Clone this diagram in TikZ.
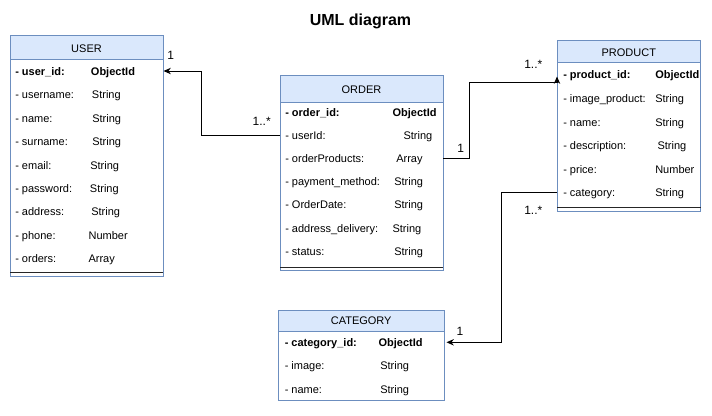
\documentclass[tikz,border=0pt]{standalone}
\usepackage{fontspec}
\setmainfont{Liberation Sans}
\usetikzlibrary{arrows.meta}
\definecolor{hdrfill}{HTML}{DAE8FC}
\definecolor{boxline}{HTML}{6C8EBF}

\begin{document}
\begin{tikzpicture}[x=0.75pt,y=0.75pt,yscale=-1,xscale=1,
  boxbody/.style={draw=boxline, fill=white, line width=0.75pt},
  boxhead/.style={draw=boxline, fill=hdrfill, line width=0.75pt},
  sepline/.style={draw=black!85, line width=0.75pt},
  headtext/.style={inner sep=0pt, font=\fontsize{8.25}{10}\selectfont, text height=5.9pt, text depth=0pt},
  fieldtext/.style={anchor=west, inner sep=0pt, font=\fontsize{8.25}{10}\selectfont, text height=5.9pt, text depth=0pt},
  keytext/.style={fieldtext, font=\fontsize{8.25}{10}\selectfont\bfseries},
  multtext/.style={inner sep=0pt, font=\fontsize{9}{10}\selectfont, text height=6.4pt, text depth=0pt},
  link/.style={draw=black, line width=0.75pt, -{Stealth[length=5.5pt,width=4.8pt]}}
]
\useasboundingbox (0,0) rectangle (712,415);

% Title
\node [inner sep=0pt, font=\fontsize{12}{14}\selectfont\bfseries, text height=8.6pt, text depth=0pt] (title) at (360.5,20) {UML diagram};

%Class box: USER
\draw [boxbody] (10,35) rectangle (163,276);
\draw [boxhead] (10,35) rectangle (163,59.5);
\draw [sepline] (10,272) -- (163,272);
\node [headtext] (userHead) at (86.5,48.3) {USER};
\node [keytext] (userIdLab) at (15,71.5) {- user\_id:};
\node [keytext] (userIdTyp) at (90.7,71.5) {ObjectId};
\node [fieldtext] (usernameLab) at (15,94.9) {- username:};
\node [fieldtext] (usernameTyp) at (91.7,94.9) {String};
\node [fieldtext] (nameLab) at (15,118.3) {- name:};
\node [fieldtext] (nameTyp) at (92,118.3) {String};
\node [fieldtext] (surnameLab) at (15,141.7) {- surname:};
\node [fieldtext] (surnameTyp) at (92,141.7) {String};
\node [fieldtext] (emailLab) at (15,165.1) {- email:};
\node [fieldtext] (emailTyp) at (90,165.1) {String};
\node [fieldtext] (passwordLab) at (15,188.5) {- password:};
\node [fieldtext] (passwordTyp) at (89.7,188.5) {String};
\node [fieldtext] (addressLab) at (15,211.9) {- address:};
\node [fieldtext] (addressTyp) at (91,211.9) {String};
\node [fieldtext] (phoneLab) at (15,235.3) {- phone:};
\node [fieldtext] (phoneTyp) at (88.3,235.3) {Number};
\node [fieldtext] (ordersLab) at (15,258.7) {- orders:};
\node [fieldtext] (ordersTyp) at (88.3,258.7) {Array};
\coordinate (userIn) at (163.5,71);

%Class box: ORDER
\draw [boxbody] (280,75.5) rectangle (443,270.7);
\draw [boxhead] (280,75.5) rectangle (443,102.5);
\draw [sepline] (280,267.5) -- (443,267.5);
\node [headtext] (orderHead) at (361.5,90) {ORDER};
\node [keytext] (orderIdLab) at (285,112.7) {- order\_id:};
\node [keytext] (orderIdTyp) at (392.3,112.7) {ObjectId};
\node [fieldtext] (userRefLab) at (285,135.5) {- userId:};
\node [fieldtext] (userRefTyp) at (403.3,135.5) {String};
\node [fieldtext] (orderProdLab) at (285,158.5) {- orderProducts:};
\node [fieldtext] (orderProdTyp) at (396,158.5) {Array};
\node [fieldtext] (paymentLab) at (285,181.7) {- payment\_method:};
\node [fieldtext] (paymentTyp) at (394,181.7) {String};
\node [fieldtext] (dateLab) at (285,205) {- OrderDate:};
\node [fieldtext] (dateTyp) at (394,205) {String};
\node [fieldtext] (deliveryLab) at (285,228.3) {- address\_delivery:};
\node [fieldtext] (deliveryTyp) at (392.3,228.3) {String};
\node [fieldtext] (statusLab) at (285,251.7) {- status:};
\node [fieldtext] (statusTyp) at (394,251.7) {String};
\coordinate (orderUserOut) at (280,135);
\coordinate (orderProdOut) at (443,158.3);

%Class box: PRODUCT
\draw [boxbody] (557,40) rectangle (700.5,211.5);
\draw [boxhead] (557,40) rectangle (700.5,62);
\draw [sepline] (557,207.3) -- (700.5,207.3);
\node [headtext] (productHead) at (628.8,53) {PRODUCT};
\node [keytext] (productIdLab) at (563,75) {- product\_id:};
\node [keytext] (productIdTyp) at (655,75) {ObjectId};
\node [fieldtext] (imageProdLab) at (563,99) {- image\_product:};
\node [fieldtext] (imageProdTyp) at (655,99) {String};
\node [fieldtext] (prodNameLab) at (563,122.3) {- name:};
\node [fieldtext] (prodNameTyp) at (655,122.3) {String};
\node [fieldtext] (descrLab) at (563,146) {- description:};
\node [fieldtext] (descrTyp) at (657.3,146) {String};
\node [fieldtext] (priceLab) at (563,169.3) {- price:};
\node [fieldtext] (priceTyp) at (655,169.3) {Number};
\node [fieldtext] (prodCatLab) at (563,192.7) {- category:};
\node [fieldtext] (prodCatTyp) at (655,192.7) {String};
\coordinate (productIn) at (557,76.5);
\coordinate (productCatOut) at (557,192.5);

%Class box: CATEGORY
\draw [boxbody] (278.5,310) rectangle (444,400);
\draw [boxhead] (278.5,310) rectangle (444,331.5);
\node [headtext] (categoryHead) at (361.2,320.3) {CATEGORY};
\node [keytext] (categoryIdLab) at (284.5,342.7) {- category\_id:};
\node [keytext] (categoryIdTyp) at (378.3,342.7) {ObjectId};
\node [fieldtext] (catImageLab) at (284.5,366) {- image:};
\node [fieldtext] (catImageTyp) at (380,366) {String};
\node [fieldtext] (catNameLab) at (284.5,389.3) {- name:};
\node [fieldtext] (catNameTyp) at (380,389.3) {String};
\coordinate (categoryIn) at (446.5,342.3);

%Connectors
\draw [link] (orderUserOut) -- (201.7,135) |- (userIn);
\draw [link] (orderProdOut) -- (469.3,158.3) |- (557,82) -- (productIn);
\draw [link] (productCatOut) -- (501.7,192.5) |- (categoryIn);

% Multiplicities
\node [multtext] (multUser) at (170.7,55) {1};
\node [multtext] (multOrderA) at (261.7,121) {1..*};
\node [multtext] (multOrderB) at (460.7,148.3) {1};
\node [multtext] (multProdA) at (533.3,64) {1..*};
\node [multtext] (multProdB) at (533.3,210.5) {1..*};
\node [multtext] (multCat) at (460,331.7) {1};

\end{tikzpicture}
\end{document}
